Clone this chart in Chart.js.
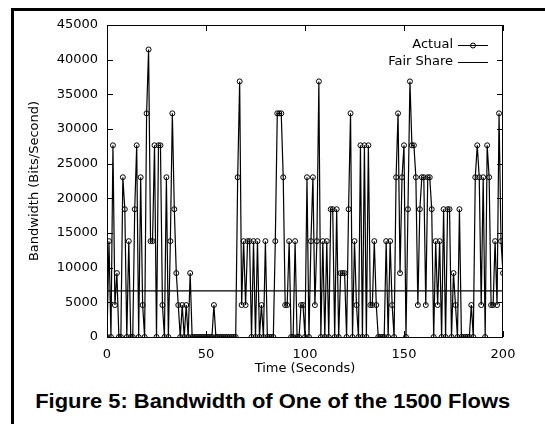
<!DOCTYPE html>
<html><head><meta charset="utf-8">
<script src="https://cdn.jsdelivr.net/npm/chart.js@4/dist/chart.umd.min.js"></script>
<style>
html,body{margin:0;padding:0;background:#fff;width:545px;height:424px;overflow:hidden;position:relative;}
#frame{position:absolute;left:11px;top:8px;width:600px;height:500px;border-left:3px solid #000;border-top:3px solid #000;}
#wrap{position:absolute;left:0;top:0;width:545px;height:385px;}
#caption{position:absolute;left:0;top:391px;width:545px;text-align:center;font:bold 20px "Liberation Sans",Arial,sans-serif;line-height:20px;color:#000;white-space:nowrap;}
#caption span{display:inline-block;transform-origin:50% 50%;}
</style></head>
<body>
<div id="frame"></div>
<div id="wrap"><canvas id="c"></canvas></div>
<div id="caption"><span id="capText">Figure 5: Bandwidth of One of the 1500 Flows</span></div>
<script>
const times = [
  0,1,2,3,4,5,6,7,8,9,
  10,11,12,13,14,15,16,17,18,19,
  20,21,22,23,24,25,26,27,28,29,
  30,31,32,33,34,35,36,37,38,39,
  40,41,42,43,44,45,46,47,48,49,
  50,51,52,53,54,55,56,57,58,59,
  60,61,62,63,64,65,66,67,68,69,
  70,71,72,73,74,75,76,77,78,79,
  80,81,82,83,84,85,86,87,88,89,
  90,91,92,93,94,95,96,97,98,99,
  100,101,102,103,104,105,106,107,108,109,
  110,111,112,113,114,115,116,117,118,119,
  120,121,122,123,124,125,126,127,128,129,
  130,131,132,133,134,135,136,137,138,139,
  140,141,142,143,144,145,146,147,148,149,
  150,151,152,153,154,155,156,157,158,159,
  160,161,162,163,164,165,166,167,168,169,
  170,171,172,173,174,175,176,177,178,179,
  180,181,182,183,184,185,186,187,188,189,
  190,191,192,193,194,195,196,197,198,199,
  200
];
const actual = [
  0,13824,0,27648,4608,9216,0,0,23040,18432,
  0,13824,0,0,18432,27648,0,23040,4608,0,
  32256,41472,13824,13824,27648,0,27648,27648,4608,0,
  23040,0,13824,32256,18432,9216,4608,0,4608,0,
  4608,0,9216,0,0,0,0,0,0,0,
  0,0,0,0,4608,0,0,0,0,0,
  0,0,0,0,0,0,23040,36864,4608,13824,
  4608,13824,13824,0,13824,0,13824,0,4608,0,
  13824,0,0,0,0,13824,32256,32256,32256,23040,
  4608,4608,13824,0,0,13824,0,0,4608,4608,
  0,23040,0,13824,23040,4608,13824,36864,0,13824,
  0,13824,0,18432,18432,0,18432,0,9216,9216,
  9216,0,18432,32256,0,13824,4608,0,27648,0,
  27648,0,27648,4608,4608,13824,4608,0,0,0,
  0,13824,0,13824,4608,0,23040,32256,9216,23040,
  27648,0,18432,36864,27648,27648,23040,4608,18432,23040,
  23040,4608,23040,23040,18432,0,13824,4608,13824,0,
  18432,0,18432,18432,0,9216,4608,0,18432,0,
  0,0,0,0,4608,0,23040,27648,23040,4608,
  23040,0,27648,23040,4608,4608,13824,4608,32256,13824,
  9216
];
const fairShareTimes = [0, 200];
const fairShareValues = [6650, 6650];
const xTickValues = [0, 50, 100, 150, 200];
const yTickValues = [0, 5000, 10000, 15000, 20000, 25000, 30000, 35000, 40000, 45000];
const legendLabels = ['Actual', 'Fair Share'];

const FONT = {family: '"DejaVu Sans", sans-serif', size: 13};

const framePlugin = {
  id: 'framePlugin',
  afterDraw(chart) {
    const {ctx, chartArea: a, scales: {x, y}} = chart;
    ctx.save();
    ctx.strokeStyle = '#000';
    ctx.lineWidth = 1;
    ctx.strokeRect(a.left + 0.5, a.top + 0.5, a.right - a.left - 1, a.bottom - a.top);
    const L = 6;
    ctx.beginPath();
    xTickValues.forEach(v => {
      const px = Math.round(x.getPixelForValue(v)) + 0.5;
      ctx.moveTo(px, a.bottom); ctx.lineTo(px, a.bottom - L);
      ctx.moveTo(px, a.top); ctx.lineTo(px, a.top + L);
    });
    yTickValues.forEach(v => {
      const py = Math.round(y.getPixelForValue(v)) + 0.5;
      ctx.moveTo(a.left, py); ctx.lineTo(a.left + L, py);
      ctx.moveTo(a.right, py); ctx.lineTo(a.right - L, py);
    });
    ctx.stroke();
    ctx.font = '13px "DejaVu Sans", sans-serif';
    ctx.fillStyle = '#000';
    ctx.textAlign = 'right';
    ctx.textBaseline = 'middle';
    const tx = a.right - 50, sx0 = a.right - 45, sx1 = a.right - 15;
    const ys = [a.top + 20, a.top + 37];
    legendLabels.forEach((lab, i) => {
      ctx.fillText(lab, tx, ys[i]);
      ctx.beginPath();
      ctx.moveTo(sx0, Math.round(ys[i]) + 0.5);
      ctx.lineTo(sx1, Math.round(ys[i]) + 0.5);
      ctx.stroke();
    });
    ctx.beginPath();
    ctx.arc((sx0 + sx1) / 2, Math.round(ys[0]) + 0.5, 2.5, 0, Math.PI * 2);
    ctx.stroke();
    ctx.restore();
  }
};

new Chart(document.getElementById('c'), {
  type: 'line',
  data: {
    datasets: [
      {
        label: legendLabels[0],
        data: times.map((t, i) => ({x: t, y: actual[i]})),
        borderColor: '#000',
        borderWidth: 1.2,
        pointStyle: 'circle',
        pointRadius: 2.5,
        pointBorderWidth: 1,
        pointBorderColor: '#000',
        pointBackgroundColor: 'rgba(0,0,0,0)',
        tension: 0
      },
      {
        label: legendLabels[1],
        data: fairShareTimes.map((t, i) => ({x: t, y: fairShareValues[i]})),
        borderColor: '#000',
        borderWidth: 1.3,
        pointRadius: 0,
        tension: 0
      }
    ]
  },
  options: {
    responsive: true,
    maintainAspectRatio: false,
    animation: false,
    devicePixelRatio: 1,
    layout: {padding: {left: 0, top: 25, right: 42, bottom: 0}},
    plugins: {legend: {display: false}, tooltip: {enabled: false}},
    scales: {
      x: {
        type: 'linear', min: 0, max: 200,
        afterBuildTicks(s) { s.ticks = xTickValues.map(v => ({value: v})); },
        afterFit(s) { s.height = 48; },
        grid: {display: false, drawTicks: false},
        border: {display: false},
        ticks: {color: '#000', font: FONT, padding: 10, maxRotation: 0, callback: v => String(v)},
        title: {display: true, text: 'Time (Seconds)', color: '#000', font: FONT, padding: {top: 0, bottom: 9}}
      },
      y: {
        type: 'linear', min: 0, max: 45000,
        afterBuildTicks(s) { s.ticks = yTickValues.map(v => ({value: v})); },
        afterFit(s) { s.width = 107; },
        grid: {display: false, drawTicks: false},
        border: {display: false},
        ticks: {color: '#000', font: FONT, padding: 9, callback: v => String(v)},
        title: {display: true, text: 'Bandwidth (Bits/Second)', color: '#000', font: FONT, padding: {top: 27, bottom: 0}}
      }
    }
  },
  plugins: [framePlugin]
});

const cap = document.getElementById('capText');
const w = cap.getBoundingClientRect().width;
cap.style.transform = 'scaleX(' + (475 / w) + ')';
</script>
</body></html>
